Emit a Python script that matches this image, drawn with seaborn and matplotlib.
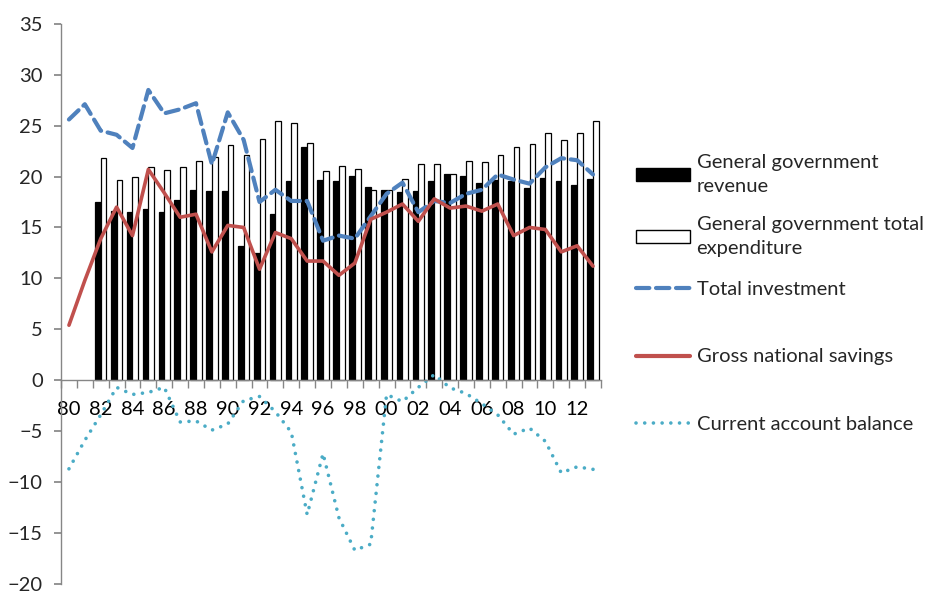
import matplotlib
matplotlib.use("Agg")
import matplotlib.pyplot as plt
from matplotlib.lines import Line2D
from matplotlib.patches import Patch
import numpy as np
import pandas as pd
import seaborn as sns

sns.set_theme(style="white")
plt.rcParams["font.family"] = ["Lato", "DejaVu Sans"]

years = list(range(1980, 2014))

# bars start in 1982
bar_years = list(range(1982, 2014))
revenue = [17.5, 16.6, 16.5, 16.8, 16.5, 17.7, 18.7, 18.6, 18.6, 13.2, 12.5, 16.3,
           19.6, 22.9, 19.7, 19.6, 20.1, 19.0, 18.7, 18.5, 18.6, 19.6, 20.2, 20.1,
           19.4, 19.7, 19.6, 18.9, 19.9, 19.6, 19.2, 19.8]
expenditure = [21.8, 19.7, 20.0, 20.9, 20.6, 20.9, 21.5, 21.9, 23.1, 22.1, 23.7, 25.5,
               25.3, 23.3, 20.5, 21.0, 20.7, 18.7, 18.7, 19.8, 21.2, 21.2, 20.2, 21.5,
               21.4, 22.1, 22.9, 23.2, 24.3, 23.6, 24.3, 25.5]

investment = [25.6, 27.1, 24.5, 24.1, 22.8, 28.5, 26.2, 26.6, 27.2, 21.2, 26.3, 23.6,
              17.5, 18.7, 17.6, 17.6, 13.7, 14.2, 13.9, 16.1, 18.3, 19.4, 16.5, 17.6,
              17.4, 18.3, 18.7, 20.2, 19.7, 19.3, 20.9, 21.8, 21.6, 20.2]
savings = [5.4, 9.8, 13.9, 17.0, 14.2, 20.7, 18.4, 16.0, 16.3, 12.6, 15.2, 15.0,
           10.9, 14.5, 13.9, 11.7, 11.7, 10.3, 11.5, 15.8, 16.5, 17.3, 15.6, 17.8,
           16.9, 17.1, 16.6, 17.3, 14.2, 15.0, 14.8, 12.6, 13.2, 11.2]
current_account = [-8.7, -5.9, -3.4, -0.7, -1.4, -1.2, -0.7, -4.1, -4.0, -4.9, -4.3, -2.0,
                   -1.6, -3.1, -5.1, -13.2, -7.2, -13.5, -16.7, -16.1, -1.4, -2.1, -0.7, 0.55,
                   -0.75, -1.3, -2.3, -3.4, -5.3, -4.7, -6.0, -9.1, -8.5, -8.75]

bar_labels = ["General government\nrevenue", "General government total\nexpenditure"]
line_labels = ["Total investment", "Gross national savings", "Current account balance"]

bar_df = pd.DataFrame({
    "year": bar_years * 2,
    "value": revenue + expenditure,
    "series": [bar_labels[0]] * len(bar_years) + [bar_labels[1]] * len(bar_years),
})

fig = plt.figure(figsize=(9.3, 5.94), dpi=100)
ax = fig.add_axes([0.0656, 0.017, 0.5806, 0.943])

sns.barplot(data=bar_df, x="year", y="value", hue="series", native_scale=True,
            palette=["black", "white"], edgecolor="black", linewidth=0.9,
            width=0.72, legend=False, ax=ax)

inv_color = "#4F81BD"
sav_color = "#C0504D"
ca_color = "#4BACC6"

sns.lineplot(x=years, y=investment, color=inv_color, lw=3.0, ax=ax)
ln = ax.lines[-1]
ln.set_dashes((3.2, 1.6))
ln.set_dash_capstyle("round")

sns.lineplot(x=years, y=savings, color=sav_color, lw=2.6, ax=ax)

sns.lineplot(x=years, y=current_account, color=ca_color, lw=2.6, ax=ax)
ln = ax.lines[-1]
ln.set_dashes((0.01, 2.4))
ln.set_dash_capstyle("round")

ax.set_xlim(1979.5, 2013.5)
ax.set_ylim(-20, 35)
ax.set_yticks(range(-20, 40, 5))
ax.set_xlabel("")
ax.set_ylabel("")

ax.spines["bottom"].set_position(("data", 0))
ax.spines["top"].set_visible(False)
ax.spines["right"].set_visible(False)
for s in ("left", "bottom"):
    ax.spines[s].set_color("#868686")
    ax.spines[s].set_linewidth(1.0)

label_years = years[::2]
ax.set_xticks(label_years)
ax.set_xticklabels([f"{y % 100:02d}" for y in label_years])
ax.set_xticks(np.arange(1979.5, 2014.5, 1), minor=True)
ax.tick_params(axis="x", which="major", length=0, pad=15, labelsize=14.5, colors="black")
ax.tick_params(axis="x", which="minor", length=6, direction="out", color="#868686", bottom=True)
ax.tick_params(axis="y", which="major", length=5, direction="out", color="#868686",
               left=True, labelsize=14.5, pad=8)
ax.grid(False)

bar_handles = [
    Patch(facecolor="black", edgecolor="black"),
    Patch(facecolor="white", edgecolor="black", linewidth=1.0),
]
line_handles = [
    Line2D([], [], color=inv_color, lw=3.0, dashes=(3.2, 1.6), dash_capstyle="round"),
    Line2D([], [], color=sav_color, lw=3.0),
    Line2D([], [], color=ca_color, lw=2.6, dashes=(0.01, 2.4), dash_capstyle="round"),
]
leg_kw = dict(frameon=False, fontsize=14.5, handlelength=2.7, handleheight=0.6,
              handletextpad=0.3, borderaxespad=0, borderpad=0)
leg1 = fig.legend(bar_handles, bar_labels, loc="center left",
                  bbox_to_anchor=(0.684, 0.654), labelspacing=1.0, **leg_kw)
for t in leg1.get_texts():
    t.set_linespacing(1.55)
leg2 = fig.legend(line_handles, line_labels, loc="center left",
                  bbox_to_anchor=(0.684, 0.399), labelspacing=2.5, **leg_kw)

fig.savefig("out.png", dpi=100)
